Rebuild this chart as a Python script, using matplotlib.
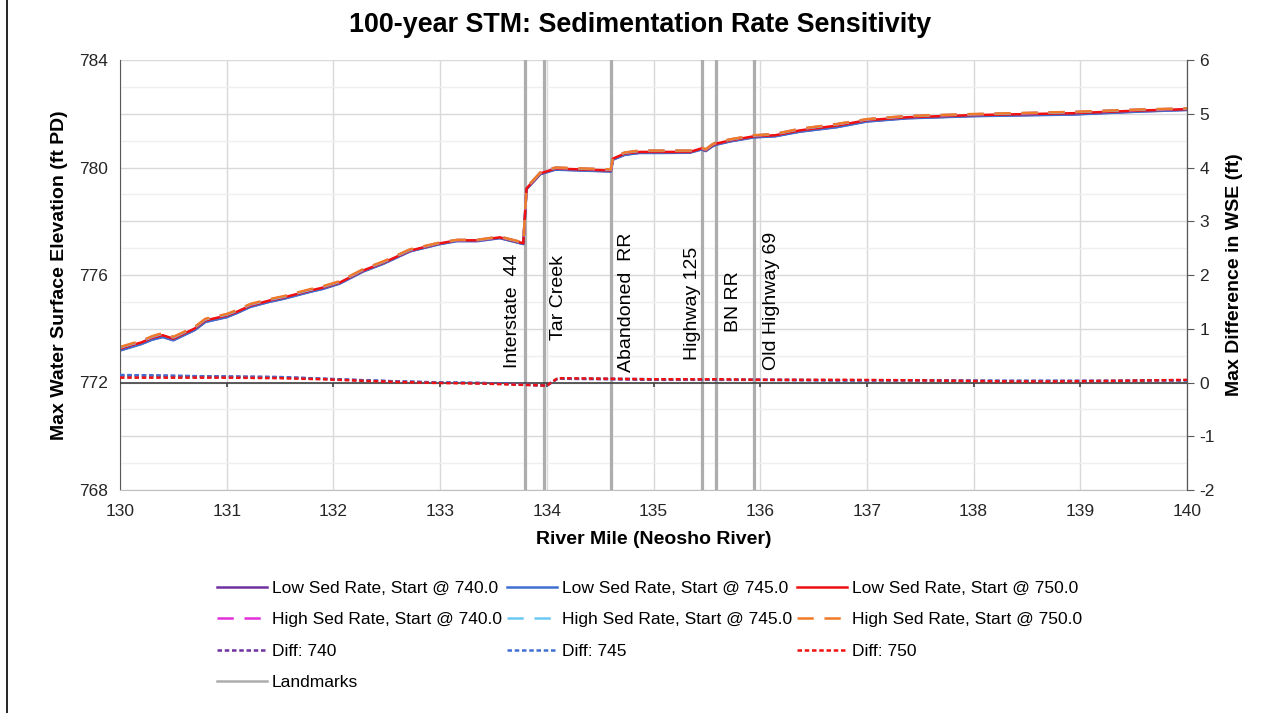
import matplotlib
matplotlib.use("Agg")
import matplotlib.pyplot as plt
from matplotlib.lines import Line2D
from matplotlib.ticker import MultipleLocator, FuncFormatter

plt.rcParams['font.family'] = ['Liberation Sans', 'DejaVu Sans']
plt.rcParams['axes.unicode_minus'] = False

# river mile stations for the water surface profiles
x_wse = [130.0, 130.1, 130.2, 130.3, 130.4, 130.5, 130.7, 130.8, 131.0, 131.1,
         131.22, 131.4, 131.53, 131.78, 131.9, 132.06, 132.28, 132.47, 132.72, 133.0,
         133.16, 133.35, 133.56, 133.78, 133.81, 133.94, 134.08, 134.6, 134.62, 134.73,
         134.87, 135.06, 135.34, 135.45, 135.49, 135.55, 135.59, 135.72, 135.94, 136.14,
         136.37, 136.72, 137.0, 137.38, 138.0, 138.93, 139.56, 140.0]

wse_low_740 = [773.20, 773.32, 773.44, 773.60, 773.70, 773.58, 773.96, 774.26, 774.44, 774.60,
               774.82, 775.01, 775.12, 775.38, 775.49, 775.69, 776.14, 776.43, 776.89, 777.16,
               777.27, 777.27, 777.38, 777.16, 779.20, 779.76, 779.93, 779.86, 780.30, 780.48,
               780.55, 780.55, 780.56, 780.68, 780.62, 780.79, 780.86, 780.98, 781.13, 781.17,
               781.34, 781.51, 781.72, 781.84, 781.92, 781.98, 782.09, 782.15]
wse_low_745 = [773.19, 773.31, 773.43, 773.59, 773.69, 773.57, 773.95, 774.25, 774.43, 774.59,
               774.81, 775.00, 775.11, 775.37, 775.48, 775.68, 776.13, 776.42, 776.88, 777.15,
               777.26, 777.26, 777.37, 777.15, 779.19, 779.75, 779.92, 779.85, 780.29, 780.47,
               780.54, 780.54, 780.55, 780.67, 780.61, 780.78, 780.85, 780.97, 781.12, 781.16,
               781.33, 781.50, 781.71, 781.83, 781.91, 781.97, 782.08, 782.14]
wse_low_750 = [773.26, 773.38, 773.49, 773.66, 773.76, 773.63, 774.01, 774.31, 774.49, 774.64,
               774.86, 775.05, 775.16, 775.42, 775.53, 775.72, 776.17, 776.46, 776.91, 777.18,
               777.29, 777.29, 777.40, 777.18, 779.22, 779.78, 779.96, 779.89, 780.33, 780.52,
               780.58, 780.58, 780.58, 780.71, 780.64, 780.82, 780.89, 781.01, 781.16, 781.20,
               781.38, 781.56, 781.76, 781.87, 781.95, 782.02, 782.12, 782.17]
wse_high_740 = [773.30, 773.42, 773.53, 773.70, 773.82, 773.68, 774.05, 774.35, 774.53, 774.68,
                774.90, 775.08, 775.19, 775.45, 775.56, 775.75, 776.20, 776.49, 776.94, 777.20,
                777.30, 777.30, 777.42, 777.20, 779.25, 779.81, 779.99, 779.92, 780.36, 780.55,
                780.62, 780.62, 780.62, 780.73, 780.67, 780.85, 780.93, 781.04, 781.19, 781.24,
                781.43, 781.61, 781.79, 781.91, 781.98, 782.06, 782.15, 782.19]
wse_high_745 = wse_high_740
wse_high_750 = [773.32, 773.44, 773.55, 773.72, 773.84, 773.70, 774.07, 774.37, 774.55, 774.70,
                774.92, 775.10, 775.21, 775.47, 775.58, 775.77, 776.22, 776.51, 776.96, 777.21,
                777.31, 777.31, 777.43, 777.21, 779.26, 779.82, 780.00, 779.93, 780.37, 780.56,
                780.63, 780.63, 780.63, 780.74, 780.68, 780.86, 780.94, 781.05, 781.20, 781.25,
                781.44, 781.62, 781.80, 781.92, 781.99, 782.07, 782.16, 782.20]

# differences (high - low), right axis
x_diff = [130.0, 130.3, 130.6, 131.0, 131.5, 131.9, 132.3, 132.6, 133.0, 133.4,
          133.7, 133.9, 134.0, 134.1, 134.6, 135.0, 135.6, 136.0, 136.8, 137.5,
          138.3, 138.8, 139.3, 139.7, 140.0]
diff_740 = [0.13, 0.13, 0.12, 0.11, 0.10, 0.07, 0.04, 0.02, 0.00, -0.01,
            -0.03, -0.05, -0.05, 0.07, 0.06, 0.05, 0.05, 0.05, 0.04, 0.04,
            0.03, 0.03, 0.03, 0.04, 0.04]
diff_745 = [0.14, 0.13, 0.12, 0.11, 0.10, 0.07, 0.04, 0.02, 0.00, -0.01,
            -0.03, -0.05, -0.06, 0.07, 0.07, 0.06, 0.05, 0.05, 0.04, 0.04,
            0.03, 0.03, 0.03, 0.04, 0.04]
diff_750 = [0.09, 0.09, 0.09, 0.09, 0.08, 0.06, 0.03, 0.01, -0.01, -0.02,
            -0.04, -0.05, -0.06, 0.08, 0.07, 0.06, 0.06, 0.05, 0.05, 0.04,
            0.02, 0.02, 0.03, 0.04, 0.05]

landmark_names = ['Interstate  44', 'Tar Creek', 'Abandoned  RR', 'Highway 125', 'BN RR', 'Old Highway 69']
landmark_miles = [133.80, 133.97, 134.60, 135.45, 135.59, 135.94]
# label placement: bottom of text (left-axis units), side of line, pixel offset
label_bottom = [772.54, 773.58, 772.39, 772.84, 773.88, 772.47]
label_side = ['left', 'right', 'right', 'left', 'right', 'right']
label_gap = [4, 6, 7, 1, 9, 9]

x_ticks = list(range(130, 141))

fig = plt.figure(figsize=(12.81, 7.13), dpi=100)
ax = fig.add_axes([120 / 1281, 1 - 490 / 713, 1067 / 1281, 430 / 713])
ax2 = ax.twinx()

ax.set_xlim(130, 140)
ax.set_ylim(768, 784)
ax2.set_ylim(-2, 6)

# grid
ax.set_xticks(x_ticks)
ax.yaxis.set_major_locator(MultipleLocator(2))
ax.yaxis.set_minor_locator(MultipleLocator(1))
ax.yaxis.set_major_formatter(FuncFormatter(lambda v, p: '%d' % v if v % 4 == 0 else ''))
ax.grid(True, which='major', color='#D9D9D9', lw=1)
ax.grid(True, which='minor', axis='y', color='#EFEFEF', lw=1)
ax.set_axisbelow(True)
ax.tick_params(axis='y', which='both', length=0, labelsize=12.5, pad=9, labelcolor='#262626')
ax.tick_params(axis='x', length=0, labelsize=12.5, pad=10, labelcolor='#262626')

ax.spines['top'].set_visible(False)
ax2.spines['top'].set_visible(False)
ax.spines['left'].set_color('#595959')
ax.spines['bottom'].set_color('#BFBFBF')
ax2.spines['right'].set_color('#595959')
ax2.spines['left'].set_visible(False)
ax2.spines['bottom'].set_visible(False)

ax2.set_yticks(range(-2, 7))
ax2.tick_params(axis='y', length=5, direction='out', labelsize=12.5, pad=4, color='#595959', labelcolor='#262626')

# landmarks
for i, m in enumerate(landmark_miles):
    ax.axvline(m, color='#ADADAD', lw=2.3, zorder=1.5)
    if label_side[i] == 'left':
        off, ha = -label_gap[i], 'right'
    else:
        off, ha = label_gap[i], 'left'
    ax.annotate(landmark_names[i], (m, label_bottom[i]), xytext=(off * 0.72, 0),
                textcoords='offset points', rotation=90, ha=ha, va='bottom',
                fontsize=14, color='#000000')

# profiles
lw = 1.8
ax.plot(x_wse, wse_low_740, color='#7030A0', lw=lw)
ax.plot(x_wse, wse_low_745, color='#3F6FD0', lw=lw)
ax.plot(x_wse, wse_low_750, color='#F01010', lw=lw)
ax.plot(x_wse, wse_high_740, color='#E030D8', lw=lw, dashes=(6.5, 4.3))
ax.plot(x_wse, wse_high_745, color='#6CC8F4', lw=lw, dashes=(6.5, 4.3))
ax.plot(x_wse, wse_high_750, color='#F07A28', lw=lw, dashes=(6.5, 4.3))

# zero axis on secondary
ax2.axhline(0, color='#404040', lw=1.2, zorder=1)
ax2.vlines(x_ticks[1:-1], -0.09, 0, color='#404040', lw=1.2)

ax2.plot(x_diff, diff_740, color='#7030A0', lw=lw, dashes=(1.8, 1.1))
ax2.plot(x_diff, diff_745, color='#3F6FD0', lw=lw, dashes=(1.8, 1.1))
ax2.plot(x_diff, diff_750, color='#F01010', lw=lw, dashes=(1.8, 1.1))

ax.set_xlabel('River Mile (Neosho River)', fontsize=14, fontweight='bold', labelpad=9)
ax.set_ylabel('Max Water Surface Elevation (ft PD)', fontsize=14, fontweight='bold', labelpad=8)
ax2.set_ylabel('Max Difference in WSE (ft)', fontsize=14, fontweight='bold', labelpad=8)
fig.suptitle('100-year STM: Sedimentation Rate Sensitivity', fontsize=19.4, fontweight='bold', y=0.983)

# legend (column-major fill)
def h(color, dashes=None):
    if dashes is None:
        return Line2D([], [], color=color, lw=lw)
    return Line2D([], [], color=color, lw=lw, dashes=dashes)

handles = [
    h('#7030A0'), h('#E030D8', (6.5, 4.3)), h('#7030A0', (1.8, 1.1)), h('#ADADAD'),
    h('#3F6FD0'), h('#6CC8F4', (6.5, 4.3)), h('#3F6FD0', (1.8, 1.1)),
    h('#F01010'), h('#F07A28', (6.5, 4.3)), h('#F01010', (1.8, 1.1)),
]
labels = [
    'Low Sed Rate, Start @ 740.0', 'High Sed Rate, Start @ 740.0', 'Diff: 740', 'Landmarks',
    'Low Sed Rate, Start @ 745.0', 'High Sed Rate, Start @ 745.0', 'Diff: 745',
    'Low Sed Rate, Start @ 750.0', 'High Sed Rate, Start @ 750.0', 'Diff: 750',
]
fig.legend(handles, labels, ncol=3, loc='upper left', bbox_to_anchor=(217 / 1281, 1 - 581 / 713),
           frameon=False, fontsize=12.5, handlelength=2.9, handletextpad=0.25,
           columnspacing=0.3, labelspacing=0.93, borderpad=0, borderaxespad=0)

# chart frame edge at left
fig.add_artist(Line2D([7 / 1281, 7 / 1281], [0, 1], color='black', lw=1.2))

fig.savefig('out.png', dpi=100)
